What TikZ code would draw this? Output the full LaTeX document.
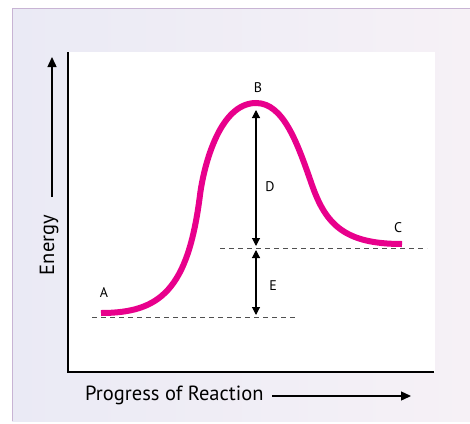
\documentclass[tikz,border=0pt]{standalone}
\usepackage{fontspec}
\setmainfont{PT Sans}
\usetikzlibrary{arrows.meta}
\definecolor{curvecol}{RGB}{232,0,140}
\definecolor{dashcol}{RGB}{80,80,80}
\definecolor{panelL}{RGB}{234,234,245}
\definecolor{panelR}{RGB}{246,241,246}
\definecolor{panelB}{RGB}{200,180,212}
\tikzset{
  axis/.style={line width=1.8pt,black},
  bigarrow/.style={line width=1.4pt,-{Triangle[length=10pt,width=9pt]}},
  dimarrow/.style={line width=1.1pt,{Triangle[length=8pt,width=8pt]}-{Triangle[length=8pt,width=8pt]}},
  guide/.style={dashcol,line width=0.9pt,dash pattern=on 5pt off 4pt},
  energycurve/.style={curvecol,line width=6pt,line cap=butt},
  lbl/.style={font=\fontsize{14}{16}\selectfont,inner sep=0pt},
  axlbl/.style={font=\fontsize{20.5}{22}\selectfont,inner sep=0pt}
}
\begin{document}
\begin{tikzpicture}[x=1pt,y=-1pt]
\useasboundingbox (0,0) rectangle (470,423);
\fill[white] (0,0) rectangle (470,423);
\shade[left color=panelL,right color=panelR] (12,8) rectangle (471,421);
\draw[panelB,line width=1pt] (471,8) -- (12,8) -- (12,421);
\fill[white] (68,52) rectangle (435,372);
% axes
\coordinate (O) at (68,372);
\coordinate (Ytop) at (68,52);
\coordinate (Xend) at (434,372);
\draw[axis] (Ytop) -- (O) -- (Xend);
% axis labels
\node[axlbl,rotate=90] (energy) at (49,245) {Energy};
\coordinate (eA) at (52,197);
\coordinate (eB) at (52,57);
\draw[bigarrow] (eA) -- (eB);
\node[axlbl,anchor=west] (progress) at (85,395) {Progress of Reaction};
\coordinate (pA) at (272,396);
\coordinate (pB) at (411,396);
\draw[bigarrow] (pA) -- (pB);
% guides
\coordinate (g1a) at (92,317);
\coordinate (g1b) at (297,317);
\coordinate (g2a) at (220,248);
\coordinate (g2b) at (427,248);
\draw[guide] (g1a) -- (g1b);
\draw[guide] (g2a) -- (g2b);
% curve
\coordinate (A) at (101,313);
\coordinate (B) at (256,103);
\coordinate (C) at (402,244);
\draw[energycurve] (A) .. controls (160,313) and (188,290) .. (200,195)
  .. controls (203,171) and (218,103) .. (B)
  .. controls (284,103) and (298,145) .. (312,185)
  .. controls (326,225) and (345,244) .. (C);
% dimension arrows
\coordinate (d1) at (256,110);
\coordinate (d2) at (256,246);
\coordinate (e1) at (256,250);
\coordinate (e2) at (256,315);
\draw[dimarrow] (d1) -- (d2);
\draw[dimarrow] (e1) -- (e2);
% labels
\node[lbl] (lA) at (104,293) {A};
\node[lbl] (lB) at (258,88) {B};
\node[lbl] (lC) at (398,228) {C};
\node[lbl] (lD) at (270,187) {D};
\node[lbl] (lE) at (273,286) {E};
\end{tikzpicture}
\end{document}
